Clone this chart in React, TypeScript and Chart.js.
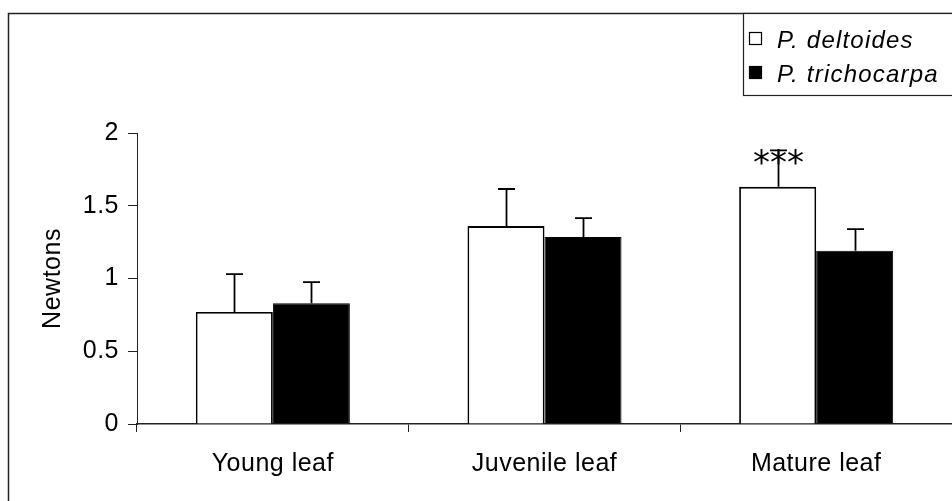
import React, { useEffect, useRef } from "react";
import { Chart, registerables } from "chart.js";

Chart.register(...registerables);

// Leaf tearing force by developmental stage for two poplar species
const categories = ["Young leaf", "Juvenile leaf", "Mature leaf"];
const seriesNames = ["P. deltoides", "P. trichocarpa"];
const deltoidesMeans = [0.77, 1.36, 1.63];
const deltoidesErrors = [0.26, 0.255, 0.25];
const trichocarpaMeans = [0.83, 1.285, 1.19];
const trichocarpaErrors = [0.145, 0.13, 0.15];
const deltoidesSignificance = ["", "", "***"];
const yTickLabels = ["0", "0.5", "1", "1.5", "2"];

const errorsBySeries = [deltoidesErrors, trichocarpaErrors];
const significanceBySeries = [deltoidesSignificance, ["", "", ""]];

const FONT = "'Liberation Sans', Arial, Helvetica, sans-serif";
const INK = "#000";

const framePlugin = {
  id: "frame",
  beforeDraw(chart: any) {
    const { ctx, width, height } = chart;
    ctx.save();
    ctx.fillStyle = "#fff";
    ctx.fillRect(0, 0, width, height);
    ctx.strokeStyle = "#222";
    ctx.lineWidth = 1.5;
    ctx.beginPath();
    ctx.moveTo(8.5, height);
    ctx.lineTo(8.5, 13.5);
    ctx.lineTo(width, 13.5);
    ctx.stroke();
    ctx.restore();
    // slightly wider glyph spacing for axis text
    (ctx as any).letterSpacing = "0.5px";
  },
};

const errorBarPlugin = {
  id: "errorBars",
  afterDatasetsDraw(chart: any) {
    const { ctx } = chart;
    const yScale = chart.scales.y;
    ctx.save();
    ctx.strokeStyle = INK;
    ctx.lineWidth = 1.8;
    chart.data.datasets.forEach((ds: any, i: number) => {
      const meta = chart.getDatasetMeta(i);
      meta.data.forEach((bar: any, j: number) => {
        const top = ds.data[j] + errorsBySeries[i][j];
        const yCap = yScale.getPixelForValue(top);
        const x = Math.round(bar.x) + 0.5;
        ctx.beginPath();
        ctx.moveTo(x, bar.y);
        ctx.lineTo(x, yCap);
        ctx.moveTo(x - 8.5, yCap);
        ctx.lineTo(x + 8.5, yCap);
        ctx.stroke();

        const mark = significanceBySeries[i][j];
        if (mark) {
          (ctx as any).letterSpacing = "0px";
          ctx.font = `34px 'DejaVu Sans', sans-serif`;
          ctx.fillStyle = INK;
          ctx.textAlign = "center";
          ctx.textBaseline = "alphabetic";
          const m = ctx.measureText("*");
          const cy = yCap + 7;
          const base = cy + (m.actualBoundingBoxAscent - m.actualBoundingBoxDescent) / 2;
          const step = 17;
          for (let k = 0; k < mark.length; k++) {
            ctx.fillText("*", x + (k - (mark.length - 1) / 2) * step, base);
          }
        }
      });
    });
    ctx.restore();
  },
};

const legendPlugin = {
  id: "boxLegend",
  afterDraw(chart: any) {
    const { ctx, width } = chart;
    ctx.save();
    (ctx as any).letterSpacing = "1.2px";
    ctx.fillStyle = "#fff";
    ctx.fillRect(743, 13, width - 743, 83);
    ctx.strokeStyle = "#222";
    ctx.lineWidth = 1.2;
    ctx.strokeRect(743.5, 13.5, width - 743 + 2, 82);
    ctx.font = `italic 24px ${FONT}`;
    ctx.textAlign = "left";
    ctx.textBaseline = "alphabetic";
    const baselines = [48, 82];
    chart.data.datasets.forEach((ds: any, i: number) => {
      const b = baselines[i];
      ctx.fillStyle = ds.backgroundColor;
      ctx.fillRect(749, b - 16, 13, 13);
      ctx.strokeStyle = INK;
      ctx.lineWidth = 1.2;
      ctx.strokeRect(749.5, b - 15.5, 12, 12);
      ctx.fillStyle = INK;
      ctx.fillText(ds.label, 777, b);
    });
    ctx.restore();
  },
};

export default function App() {
  const canvasRef = useRef<HTMLCanvasElement>(null);

  useEffect(() => {
    const canvas = canvasRef.current;
    if (!canvas) return;
    const chart = new Chart(canvas, {
      type: "bar",
      data: {
        labels: categories,
        datasets: [
          {
            label: seriesNames[0],
            data: deltoidesMeans,
            backgroundColor: "#fff",
            borderColor: INK,
            borderWidth: 1.8,
            categoryPercentage: 0.567,
            barPercentage: 1,
          },
          {
            label: seriesNames[1],
            data: trichocarpaMeans,
            backgroundColor: INK,
            borderColor: INK,
            borderWidth: 1,
            categoryPercentage: 0.567,
            barPercentage: 1,
          },
        ],
      },
      options: {
        animation: false,
        responsive: false,
        devicePixelRatio: 1,
        layout: { padding: { left: 38, top: 133, right: 0, bottom: 0 } },
        plugins: {
          legend: { display: false },
          tooltip: { enabled: false },
        },
        scales: {
          x: {
            type: "category",
            offset: true,
            afterFit: (scale: any) => {
              scale.height = 77;
            },
            grid: {
              offset: true,
              drawOnChartArea: false,
              drawTicks: true,
              tickLength: 8,
              color: "#222",
              lineWidth: 1,
            },
            border: { display: true, color: "#222", width: 1.5 },
            ticks: {
              color: INK,
              font: { family: FONT, size: 25 },
              padding: 17,
              maxRotation: 0,
            },
          },
          y: {
            type: "linear",
            min: 0,
            max: 2,
            afterFit: (scale: any) => {
              scale.width = 99;
            },
            afterBuildTicks: (scale: any) => {
              scale.ticks = yTickLabels.map((_, i) => ({ value: i * 0.5 }));
            },
            grid: {
              drawOnChartArea: false,
              drawTicks: true,
              tickLength: 9,
              color: "#222",
              lineWidth: 1,
            },
            border: { display: true, color: "#222", width: 1 },
            ticks: {
              color: INK,
              font: { family: FONT, size: 25 },
              padding: 9,
              callback: (_v: any, i: number) => yTickLabels[i],
            },
            title: {
              display: true,
              text: "Newtons",
              color: INK,
              font: { family: FONT, size: 25 },
              padding: 0,
            },
          },
        },
      },
      plugins: [framePlugin, errorBarPlugin, legendPlugin],
    });
    return () => chart.destroy();
  }, []);

  return (
    <div
      style={{
        position: "absolute",
        left: 0,
        top: 0,
        width: 952,
        height: 501,
        background: "#fff",
      }}
    >
      <canvas
        ref={canvasRef}
        width={952}
        height={501}
        style={{ display: "block", width: 952, height: 501 }}
      />
    </div>
  );
}
